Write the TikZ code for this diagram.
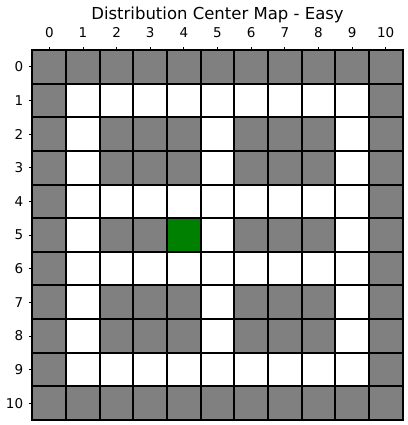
\documentclass[tikz,border=0pt]{standalone}
\usepackage{fontspec}
\setmainfont{DejaVu Sans}
\usetikzlibrary{positioning}
\definecolor{shelfgray}{RGB}{128,128,128}
\definecolor{dockgreen}{RGB}{0,128,0}

\begin{document}
\begin{tikzpicture}[
        x=33.64pt, y=-33.64pt,
        cellS/.style={rectangle, minimum size=33.64pt, inner sep=0pt, fill=shelfgray},
        cellF/.style={rectangle, minimum size=33.64pt, inner sep=0pt, fill=white},
        cellD/.style={rectangle, minimum size=33.64pt, inner sep=0pt, fill=dockgreen},
        gridline/.style={line width=2pt, line cap=rect},
        tickmark/.style={line width=0.8pt},
        ticklabel/.style={inner sep=0pt, font=\fontsize{13.5}{16}\selectfont},
        maptitle/.style={inner sep=0pt, anchor=base, font=\fontsize{16.5}{19}\selectfont}
    ]
    \useasboundingbox (-0.9661,-1.4863) rectangle (11.1326,11.1474);
    % S = shelf, F = free aisle, D = dock
    \foreach \r/\row in {
        0/{S,S,S,S,S,S,S,S,S,S,S},
        1/{S,F,F,F,F,F,F,F,F,F,S},
        2/{S,F,S,S,S,F,S,S,S,F,S},
        3/{S,F,S,S,S,F,S,S,S,F,S},
        4/{S,F,F,F,F,F,F,F,F,F,S},
        5/{S,F,S,S,D,F,S,S,S,F,S},
        6/{S,F,F,F,F,F,F,F,F,F,S},
        7/{S,F,S,S,S,F,S,S,S,F,S},
        8/{S,F,S,S,S,F,S,S,S,F,S},
        9/{S,F,F,F,F,F,F,F,F,F,S},
        10/{S,S,S,S,S,S,S,S,S,S,S}}
        \foreach \k [count=\c from 0] in \row
            \node[cell\k] (cell-\r-\c) at (\c+0.5,\r+0.5) {};
    \foreach \i in {0,...,11} {
        \draw[gridline] (\i,0) -- (\i,11);
        \draw[gridline] (0,\i) -- (11,\i);
    }
    % axes
    \foreach \i in {0,...,10} {
        \draw[tickmark] (\i+0.5,0) -- (\i+0.5,-0.104);
        \draw[tickmark] (0,\i+0.5) -- (-0.104,\i+0.5);
        \node[ticklabel, anchor=base] (col-\i) at (\i+0.5,-0.378) {\i};
        \node[ticklabel, anchor=east] (row-\i) at (-0.273,\i+0.5) {\i};
    }
    \node[maptitle] (title) at (5.5,-0.913) {Distribution Center Map - Easy};
\end{tikzpicture}
\end{document}
